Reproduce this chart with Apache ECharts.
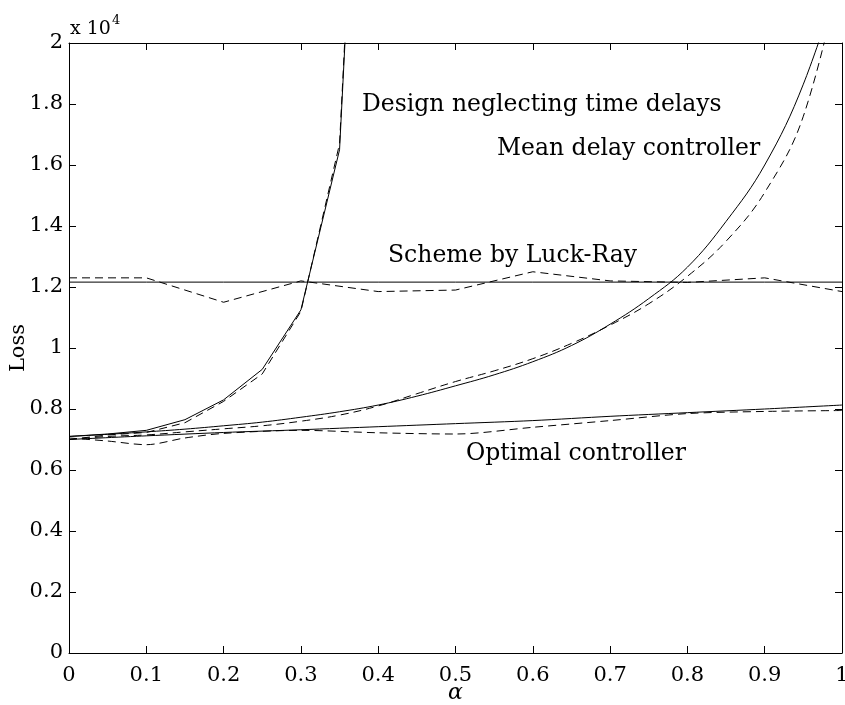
<!DOCTYPE html>
<html>
<head>
<meta charset="utf-8">
<script src="https://cdn.jsdelivr.net/npm/echarts@6/dist/echarts.min.js"></script>
<style>
html,body{margin:0;padding:0;background:#fff;}
#chart{width:845px;height:705px;}
</style>
</head>
<body>
<div id="chart"></div>
<script>
// ---- data ----
const designX      = [0, 0.05, 0.1, 0.15, 0.2, 0.25, 0.3, 0.35, 0.36];
const designSolid  = [7100, 7180, 7300, 7650, 8300, 9300, 11250, 16500, 21500];
const designDashed = [7000, 7150, 7230, 7550, 8250, 9150, 11200, 16700, 21700];

const meanX      = [0, 0.05, 0.1, 0.15, 0.2, 0.25, 0.3, 0.35, 0.4, 0.45, 0.5, 0.55, 0.6, 0.65, 0.7, 0.75, 0.8, 0.85, 0.9, 0.95, 1.0];
const meanSolid  = [7100, 7170, 7250, 7340, 7450, 7570, 7730, 7910, 8130, 8420, 8760, 9120, 9550, 10080, 10780, 11620, 12650, 14150, 16000, 18650, 22400];
const meanDashed = [7000, 7100, 7150, 7250, 7350, 7450, 7600, 7800, 8100, 8500, 8900, 9250, 9650, 10150, 10750, 11450, 12350, 13500, 15100, 17600, 22600];

const luckX      = [0, 0.1, 0.2, 0.3, 0.4, 0.5, 0.6, 0.7, 0.8, 0.9, 1.0];
const luckSolid  = [12160, 12160, 12160, 12160, 12160, 12160, 12160, 12160, 12160, 12160, 12160];
const luckDashed = [12300, 12300, 11500, 12200, 11850, 11900, 12500, 12200, 12150, 12300, 11850];

const optSolidX  = [0, 0.1, 0.2, 0.3, 0.4, 0.5, 0.6, 0.7, 0.8, 0.9, 1.0];
const optSolid   = [7000, 7120, 7230, 7320, 7420, 7520, 7620, 7760, 7880, 8000, 8130];
const optDashedX = [0, 0.05, 0.1, 0.15, 0.2, 0.3, 0.4, 0.5, 0.6, 0.7, 0.8, 0.9, 1.0];
const optDashed  = [7050, 6950, 6830, 7050, 7200, 7300, 7220, 7180, 7400, 7620, 7850, 7920, 7950];

const xTickInterval = 0.1;
const yTickInterval = 2000;
const yScale = 10000;

const annotations = [
  {text: 'Design neglecting time delays', left: 362, top: 93},
  {text: 'Mean delay controller', left: 497, top: 137},
  {text: 'Scheme by Luck-Ray', left: 388, top: 244},
  {text: 'Optimal controller', left: 466, top: 442}
];

// ---- chart ----
const FONT = 'DejaVu Serif';
const pairs = (xs, ys) => xs.map((x, i) => [x, ys[i]]);
const solid = {color: '#000', width: 1, type: 'solid'};
const dashed = {color: '#000', width: 1, type: [8, 5]};

function line(name, xs, ys, style, smooth) {
  return {
    name: name, type: 'line', data: pairs(xs, ys), showSymbol: false, symbol: 'none',
    lineStyle: style, smooth: smooth, clip: true, animation: false, z: 3
  };
}

const chart = echarts.init(document.getElementById('chart'));
const axisLine = {show: true, onZero: false, lineStyle: {color: '#000', width: 1}};
const axisTick = {show: true, inside: true, length: 7, lineStyle: {color: '#000', width: 1}};

chart.setOption({
  animation: false,
  backgroundColor: '#fff',
  grid: {left: 69, right: 3, top: 43, bottom: 52, containLabel: false, outerBoundsMode: 'none'},
  xAxis: [
    {type: 'value', min: 0, max: 1, interval: xTickInterval, position: 'bottom',
     axisLine: axisLine, axisTick: axisTick, splitLine: {show: false},
     axisLabel: {color: '#000', fontFamily: FONT, fontSize: 21, margin: 12,
       formatter: v => String(parseFloat(v.toFixed(1)))},
     name: 'α', nameLocation: 'middle', nameGap: 29, nameMoveOverlap: false,
     nameTextStyle: {color: '#000', fontFamily: FONT, fontSize: 22, fontStyle: 'italic'}},
    {type: 'value', min: 0, max: 1, interval: xTickInterval, position: 'top',
     axisLine: axisLine, axisTick: axisTick, splitLine: {show: false}, axisLabel: {show: false}}
  ],
  yAxis: [
    {type: 'value', min: 0, max: 20000, interval: yTickInterval, position: 'left',
     axisLine: axisLine, axisTick: axisTick, splitLine: {show: false},
     axisLabel: {color: '#000', fontFamily: FONT, fontSize: 21, margin: 6,
       formatter: v => String(parseFloat((v / yScale).toFixed(1)))},
     name: 'Loss', nameLocation: 'middle', nameGap: 40, nameRotate: 90, nameMoveOverlap: false,
     nameTextStyle: {color: '#000', fontFamily: FONT, fontSize: 21}},
    {type: 'value', min: 0, max: 20000, interval: yTickInterval, position: 'right',
     axisLine: axisLine, axisTick: axisTick, splitLine: {show: false}, axisLabel: {show: false}}
  ],
  graphic: [
    {type: 'text', left: 70, top: 14,
     style: {text: '{a|x 10}{b|4}', rich: {
       a: {fontFamily: FONT, fontSize: 19, fill: '#000', verticalAlign: 'bottom', lineHeight: 25},
       b: {fontFamily: FONT, fontSize: 13, fill: '#000', verticalAlign: 'top', lineHeight: 14, padding: [0, 0, 12, 1]}
     }}}
  ].concat(annotations.map(a => ({
    type: 'text', left: a.left, top: a.top,
    style: {text: a.text, fontFamily: FONT, fontSize: 23.5, fill: '#000'}
  }))),
  series: [
    line('design', designX, designSolid, solid, false),
    line('design-d', designX, designDashed, dashed, false),
    line('mean', meanX, meanSolid, solid, 0.4),
    line('mean-d', meanX, meanDashed, dashed, 0.4),
    line('luck', luckX, luckSolid, solid, false),
    line('luck-d', luckX, luckDashed, dashed, false),
    line('opt', optSolidX, optSolid, solid, 0.3),
    line('opt-d', optDashedX, optDashed, dashed, 0.3)
  ]
});
</script>
</body>
</html>
